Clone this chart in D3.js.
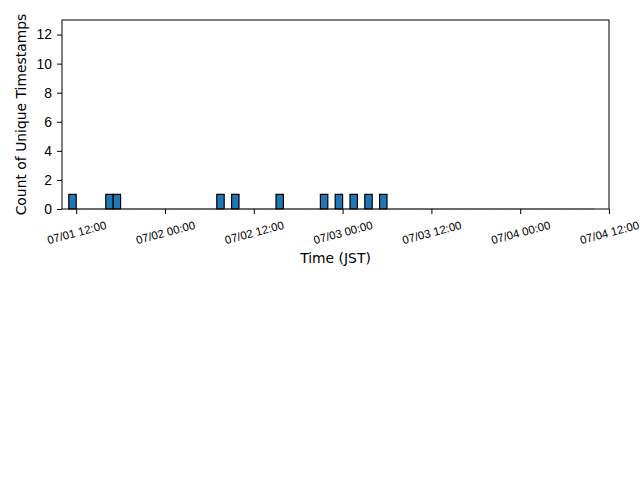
<!DOCTYPE html>
<html>
<head>
<meta charset="utf-8">
<script src="https://cdn.jsdelivr.net/npm/d3@7"></script>
<style>
  body { margin: 0; background: #fff; }
  svg { display: block; font-family: "DejaVu Sans", sans-serif; }
</style>
</head>
<body>
<svg id="chart" width="640" height="480"></svg>
<script>
// hourly bins (JST), first bin starts 07/01 11:00
const binStart = "2024-07-01 11:00";
const counts = [
  1, 0, 0, 0, 0, 1, 1, 0, 0, 0, 0, 0, 0, 0, 0, 0, 0, 0, 0, 0,
  1, 0, 1, 0, 0, 0, 0, 0, 1, 0, 0, 0, 0, 0, 1, 0, 1, 0, 1, 0,
  1, 0, 1, 0, 0, 0, 0, 0, 0, 0, 0, 0, 0, 0, 0, 0, 0, 0, 0, 0,
  0, 0, 0, 0, 0, 0, 0, 0, 0, 0, 0
];
const xStart = "2024-07-01 10:05";
const xEnd = "2024-07-04 12:00";
const tickTimes = ["2024-07-01 12:00", "2024-07-02 00:00", "2024-07-02 12:00",
  "2024-07-03 00:00", "2024-07-03 12:00", "2024-07-04 00:00", "2024-07-04 12:00"];
const yTicks = [0, 2, 4, 6, 8, 10, 12];

const parse = d3.utcParse("%Y-%m-%d %H:%M");
const fmt = d3.utcFormat("%m/%d %H:%M");

const margin = { left: 62, right: 31, top: 20, bottom: 271 };
const width = 640, height = 480;

const svg = d3.select("#chart");

const x = d3.scaleUtc()
  .domain([parse(xStart), parse(xEnd)])
  .range([margin.left, width - margin.right]);

const y = d3.scaleLinear()
  .domain([0, 13])
  .range([height - margin.bottom, margin.top]);

const t0 = parse(binStart);
const bins = counts.map((c, i) => ({
  x0: d3.utcHour.offset(t0, i),
  x1: d3.utcHour.offset(t0, i + 1),
  count: c
}));

// bars (paths so that empty bins still show their edge)
svg.append("g")
  .selectAll("path")
  .data(bins)
  .enter()
  .append("path")
  .attr("d", d => {
    const a = x(d.x0), b = x(d.x1), y0 = y(0), y1 = y(d.count);
    return `M${a},${y0}V${y1}H${b}V${y0}Z`;
  })
  .attr("fill", "#1f77b4")
  .attr("stroke", d => d.count > 0 ? "#000" : "#aaa")
  .attr("stroke-width", 1.2);

// x axis
const xAxis = svg.append("g")
  .attr("transform", `translate(0,${y(0)})`)
  .call(d3.axisBottom(x)
    .tickValues(tickTimes.map(parse))
    .tickFormat(fmt)
    .tickSize(5)
    .tickSizeOuter(0));
xAxis.select(".domain").remove();
xAxis.selectAll(".tick line").attr("stroke", "#000");
xAxis.selectAll(".tick text")
  .attr("y", 0)
  .attr("dy", null)
  .attr("fill", "#000")
  .attr("font-size", "11.5px")
  .attr("text-anchor", "middle")
  .attr("dominant-baseline", "central")
  .attr("transform", "translate(0,23.5) rotate(-15)");

// y axis
const yAxis = svg.append("g")
  .attr("transform", `translate(${margin.left},0)`)
  .call(d3.axisLeft(y)
    .tickValues(yTicks)
    .tickSize(5)
    .tickPadding(5)
    .tickSizeOuter(0));
yAxis.select(".domain").remove();
yAxis.selectAll(".tick line").attr("stroke", "#000");
yAxis.selectAll(".tick text")
  .attr("fill", "#000")
  .attr("font-size", "13.9px");

// frame
svg.append("rect")
  .attr("x", margin.left)
  .attr("y", margin.top)
  .attr("width", width - margin.left - margin.right)
  .attr("height", y(0) - margin.top)
  .attr("fill", "none")
  .attr("stroke", "#000")
  .attr("stroke-width", 1);

// axis labels
svg.append("text")
  .attr("x", (margin.left + width - margin.right) / 2)
  .attr("y", 258)
  .attr("text-anchor", "middle")
  .attr("dominant-baseline", "central")
  .attr("font-size", "13.9px")
  .text("Time (JST)");

svg.append("text")
  .attr("transform", `translate(21,${(margin.top + y(0)) / 2}) rotate(-90)`)
  .attr("text-anchor", "middle")
  .attr("dominant-baseline", "central")
  .attr("font-size", "13.9px")
  .text("Count of Unique Timestamps");
</script>
</body>
</html>
